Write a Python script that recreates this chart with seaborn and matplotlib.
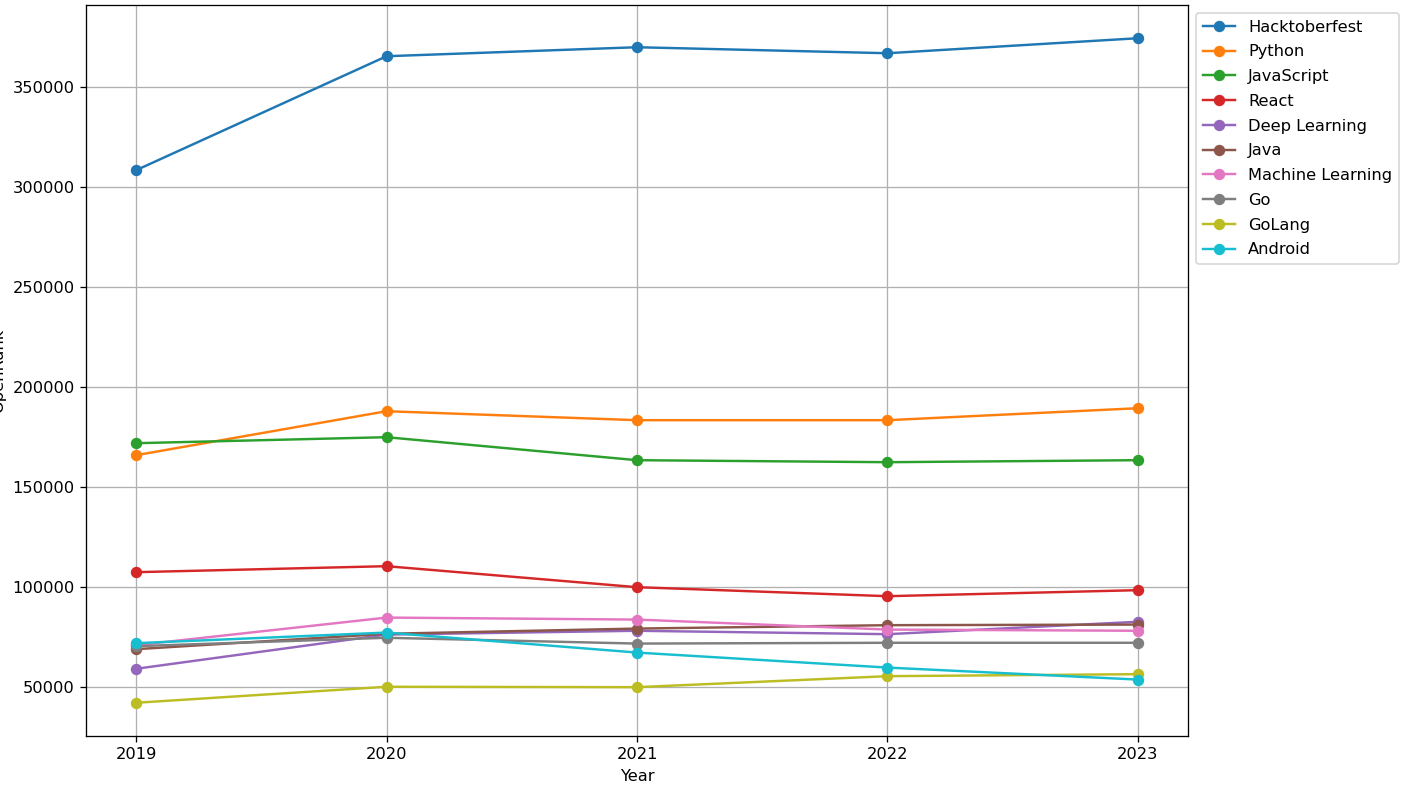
import numpy as np
import pandas as pd
import matplotlib
matplotlib.use("Agg")
import matplotlib.pyplot as plt
import seaborn as sns

years = [2019, 2020, 2021, 2022, 2023]
topics = ["Hacktoberfest", "Python", "JavaScript", "React", "Deep Learning",
          "Java", "Machine Learning", "Go", "GoLang", "Android"]

hacktoberfest = [308500, 365500, 370000, 367000, 374500]
python = [166000, 188000, 183500, 183500, 189500]
javascript = [172000, 175000, 163500, 162500, 163500]
react = [107500, 110500, 100000, 95500, 98500]
deep_learning = [59200, 76300, 78200, 76500, 82700]
java = [69000, 76700, 79300, 81000, 81300]
machine_learning = [71000, 84800, 83800, 78800, 78200]
go = [70500, 74700, 71800, 72200, 72200]
golang = [42200, 50200, 50000, 55500, 56500]
android = [72000, 77300, 67300, 59800, 53800]

series = [hacktoberfest, python, javascript, react, deep_learning,
          java, machine_learning, go, golang, android]

rows = []
for name, vals in zip(topics, series):
    for y, v in zip(years, vals):
        rows.append({"Year": y, "OpenRank": v, "Topic": name})
df = pd.DataFrame(rows)

DPI = 117
fig = plt.figure(figsize=(1414 / DPI, 798 / DPI), dpi=DPI)
ax = fig.add_axes([86 / 1414, 1 - 736 / 798, (1188 - 86) / 1414, (736 - 5) / 798])

palette = sns.color_palette("tab10", len(topics))
sns.lineplot(data=df, x="Year", y="OpenRank", hue="Topic", hue_order=topics,
             palette=palette, marker="o", markersize=6, linewidth=1.5, ax=ax)
for line in ax.lines:
    line.set_markeredgecolor(line.get_color())
    line.set_markeredgewidth(1.0)

ax.set_xticks(years)
ax.grid(True, color="#b0b0b0", linewidth=0.8)
ax.set_xlabel("Year")
ax.set_ylabel("OpenRank")
# title sits above the visible area in the reference, only its descenders show
ax.set_title("Top 10 Topics by OpenRank Over the Years (2019-2023)")
ax.legend(bbox_to_anchor=(1.0, 1.0), loc="upper left", labelspacing=0.6)

fig.savefig("out.png", dpi=DPI)
